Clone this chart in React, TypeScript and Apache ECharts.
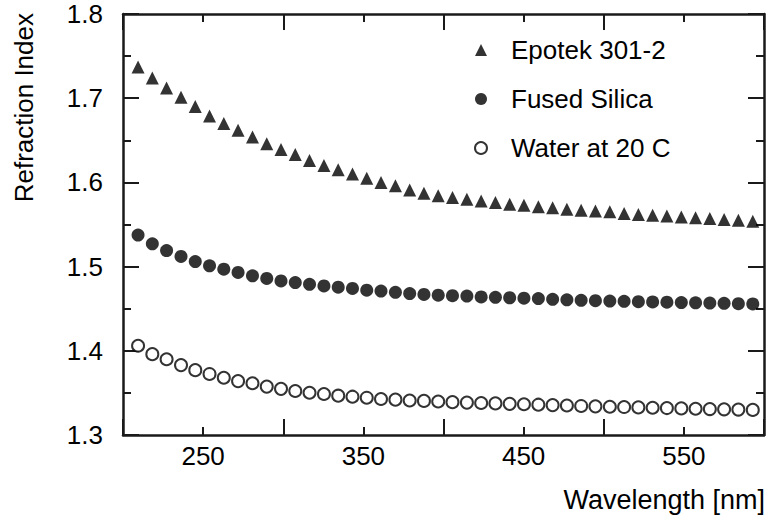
import React, { useEffect, useRef } from "react";
import * as echarts from "echarts";

const wavelength = [209.4, 218.3, 227.2, 236.2, 245.1, 254.0, 262.9, 271.8, 280.8, 289.7, 298.6, 307.5, 316.4, 325.4, 334.3, 343.2, 352.1, 361.0, 370.0, 378.9, 387.8, 396.7, 405.6, 414.6, 423.5, 432.4, 441.3, 450.2, 459.2, 468.1, 477.0, 485.9, 494.8, 503.8, 512.7, 521.6, 530.5, 539.4, 548.4, 557.3, 566.2, 575.1, 584.0, 593.0];

const epotek = [1.737, 1.724, 1.712, 1.701, 1.690, 1.679, 1.670, 1.662, 1.654, 1.646, 1.639, 1.633, 1.626, 1.620, 1.615, 1.610, 1.605, 1.600, 1.596, 1.591, 1.587, 1.584, 1.582, 1.580, 1.578, 1.576, 1.574, 1.573, 1.571, 1.570, 1.568, 1.567, 1.566, 1.565, 1.563, 1.562, 1.561, 1.560, 1.559, 1.558, 1.557, 1.556, 1.555, 1.554];

const fusedSilica = [1.5375, 1.527, 1.519, 1.512, 1.506, 1.501, 1.497, 1.493, 1.489, 1.486, 1.483, 1.481, 1.479, 1.477, 1.4755, 1.474, 1.472, 1.471, 1.4695, 1.468, 1.467, 1.466, 1.4655, 1.465, 1.464, 1.4635, 1.463, 1.4625, 1.462, 1.4612, 1.4605, 1.460, 1.4595, 1.459, 1.4587, 1.4583, 1.458, 1.4577, 1.4573, 1.457, 1.4567, 1.4564, 1.456, 1.4557];

const water = [1.406, 1.396, 1.390, 1.383, 1.377, 1.3725, 1.368, 1.364, 1.3615, 1.3575, 1.3548, 1.3523, 1.3502, 1.3487, 1.3467, 1.3455, 1.3443, 1.3428, 1.342, 1.341, 1.3405, 1.3398, 1.339, 1.3385, 1.338, 1.3375, 1.337, 1.3365, 1.336, 1.3355, 1.335, 1.3345, 1.334, 1.3336, 1.3332, 1.3328, 1.3324, 1.332, 1.3316, 1.3312, 1.3308, 1.3305, 1.3302, 1.3298];

const xLabelValues = [250, 350, 450, 550];
const seriesNames = ["Epotek 301-2", "Fused Silica", "Water at 20 C"];
const xTitle = "Wavelength [nm]";
const yTitle = "Refraction Index";

const FONT = "'Liberation Sans', Arial, Helvetica, sans-serif";
const INK = "#000";
const FRAME = "#1a1a1a";

function st(c: string) {
  return {
    axisLine: { show: true, onZero: false, lineStyle: { color: c, width: 2.5 } },
    axisTick: { show: true, inside: true, length: 16, lineStyle: { color: c, width: 2 } },
    minorTick: { show: true, splitNumber: 2, length: 8, lineStyle: { color: c, width: 2 } },
    splitLine: { show: false },
    minorSplitLine: { show: false },
  };
}

export default function App() {
  const ref = useRef<HTMLDivElement>(null);
  useEffect(() => {
    document.body.style.margin = "0";
    if (!ref.current) return;
    const chart = echarts.init(ref.current, null, { renderer: "svg" });
    const pair = (ys: number[]) => wavelength.map((x, i) => [x, ys[i]]);
    chart.setOption({
      animation: false,
      backgroundColor: "#fff",
      textStyle: { fontFamily: FONT },
      grid: { left: 123, right: 8, top: 14, bottom: 90 },
      xAxis: [
        {
          type: "value", min: 200, max: 600, interval: 100, position: "bottom",
          ...st(FRAME),
          axisLabel: { show: true, customValues: xLabelValues, color: INK, fontSize: 26, margin: 8 },
        },
        {
          type: "value", min: 200, max: 600, interval: 100, position: "top",
          ...st(FRAME),
          axisLabel: { show: false },
        },
      ],
      yAxis: [
        {
          type: "value", min: 1.3, max: 1.8, interval: 0.1, position: "left",
          ...st(FRAME),
          axisLabel: { show: true, color: INK, fontSize: 26, margin: 20, padding: [8, 0, 0, 0], formatter: (v: number) => v.toFixed(1) },
        },
        {
          type: "value", min: 1.3, max: 1.8, interval: 0.1, position: "right",
          ...st(FRAME),
          axisLabel: { show: false },
        },
      ],
      legend: {
        orient: "vertical",
        left: 469,
        top: 32,
        itemGap: 23,
        itemWidth: 12,
        itemHeight: 12,
        textStyle: { color: INK, fontSize: 26, padding: [0, 0, 0, 19] },
        data: seriesNames,
      },
      graphic: [
        {
          type: "text",
          x: 24,
          y: 13,
          rotation: Math.PI / 2,
          style: { text: yTitle, fill: INK, font: `26px ${FONT}`, align: "right", verticalAlign: "middle" },
        },
        {
          type: "text",
          x: 765,
          y: 500,
          style: { text: xTitle, fill: INK, font: `27px ${FONT}`, align: "right", verticalAlign: "middle" },
        },
      ],
      series: [
        { name: seriesNames[0], type: "scatter", symbol: "triangle", symbolSize: 13, itemStyle: { color: INK }, data: pair(epotek) },
        { name: seriesNames[1], type: "scatter", symbol: "circle", symbolSize: 13, itemStyle: { color: INK }, data: pair(fusedSilica) },
        { name: seriesNames[2], type: "scatter", symbol: "circle", symbolSize: 12, itemStyle: { color: "#fff", borderColor: INK, borderWidth: 2 }, data: pair(water) },
      ],
    });
    return () => chart.dispose();
  }, []);
  return <div ref={ref} style={{ width: 772, height: 525 }} />;
}
